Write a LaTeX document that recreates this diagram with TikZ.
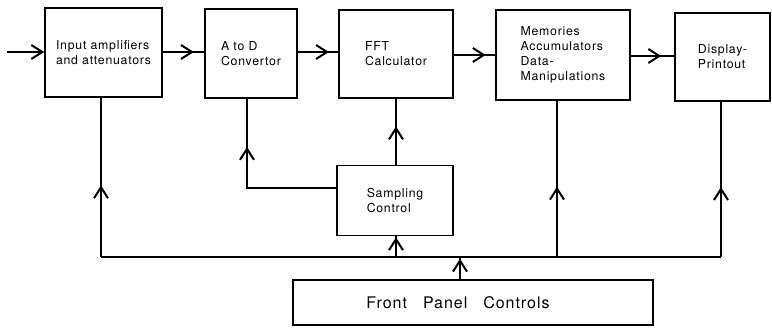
\documentclass[tikz,border=0pt]{standalone}
\usepackage{fontspec}
\setmainfont[LetterSpace=6]{TeX Gyre Heros}
\usetikzlibrary{arrows.meta,decorations.markings}
\tikzset{
  barb/.tip={Straight Barb[length=11pt,width=14pt,line width=2pt]},
  box/.style={draw, line width=1.6pt, inner sep=0pt, align=left,
    font=\fontsize{12.3}{15}\selectfont},
  conn/.style={line width=1.6pt},
  midarr/.style={conn, postaction={decorate},
    decoration={markings, mark=at position #1 with {\arrow{barb}}}},
}
\begin{document}
\begin{tikzpicture}[x=1pt,y=-1pt]
\useasboundingbox (0,0) rectangle (772,328);
\node[box, minimum width=117pt, minimum height=89pt] (inp) at (103.5,52.5) {Input amplifiers\\and attenuators};
\node[box, minimum width=92pt, minimum height=89pt] (adc) at (251,53.5) {A to D\\Convertor};
\node[box, minimum width=114pt, minimum height=88pt] (fft) at (396,54) {FFT\\Calculator};
\node[box, minimum width=134pt, minimum height=90pt] (mem) at (563,55) {Memories\\Accumulators\\Data-\\Manipulations};
\node[box, minimum width=95pt, minimum height=88pt] (disp) at (722.5,57) {Display-\\Printout};
\node[box, minimum width=116pt, minimum height=70pt] (samp) at (395,200.5) {Sampling\\Control};
\node[box, minimum width=360pt, minimum height=45pt, font=\fontsize{16}{18}\selectfont] (fpc) at (473,302.5) {Front\quad Panel\quad Controls\hspace*{30pt}};
\coordinate (in) at (7,52);
\coordinate (busL) at (101,257);
\coordinate (busR) at (721,257);
\coordinate (busS) at (396,257);
\coordinate (busM) at (557,257);
\coordinate (busF) at (460,257);
\coordinate (adcc) at (247,188);
% horizontal signal path
\draw[conn, -{barb}] (in) -- (in -| inp.west);
\draw[midarr=0.75] (inp.east |- in) -- (in -| adc.west);
\draw[midarr=0.77] (adc.east |- in) -- (in -| fft.west);
\draw[midarr=0.77] (fft.east |- 0,55) -- (mem.west |- 0,55);
\draw[midarr=0.7] (mem.east |- 0,56) -- (disp.west |- 0,56);
% sampling control
\draw[midarr=0.73] (samp.west |- adcc) -- (adcc) -- (adcc |- adc.south);
\draw[midarr=0.58] (samp.north -| busS) -- (fft.south -| busS);
% bus
\draw[conn] (busL) -- (busR);
\draw[midarr=0.45] (busL) -- (busL |- inp.south);
\draw[midarr=0.95] (busS) -- (busS |- samp.south);
\draw[midarr=0.45] (busM) -- (busM |- mem.south);
\draw[midarr=0.45] (busR) -- (busR |- disp.south);
\draw[midarr=0.92] (busF |- fpc.north) -- (busF);
\end{tikzpicture}
\end{document}
